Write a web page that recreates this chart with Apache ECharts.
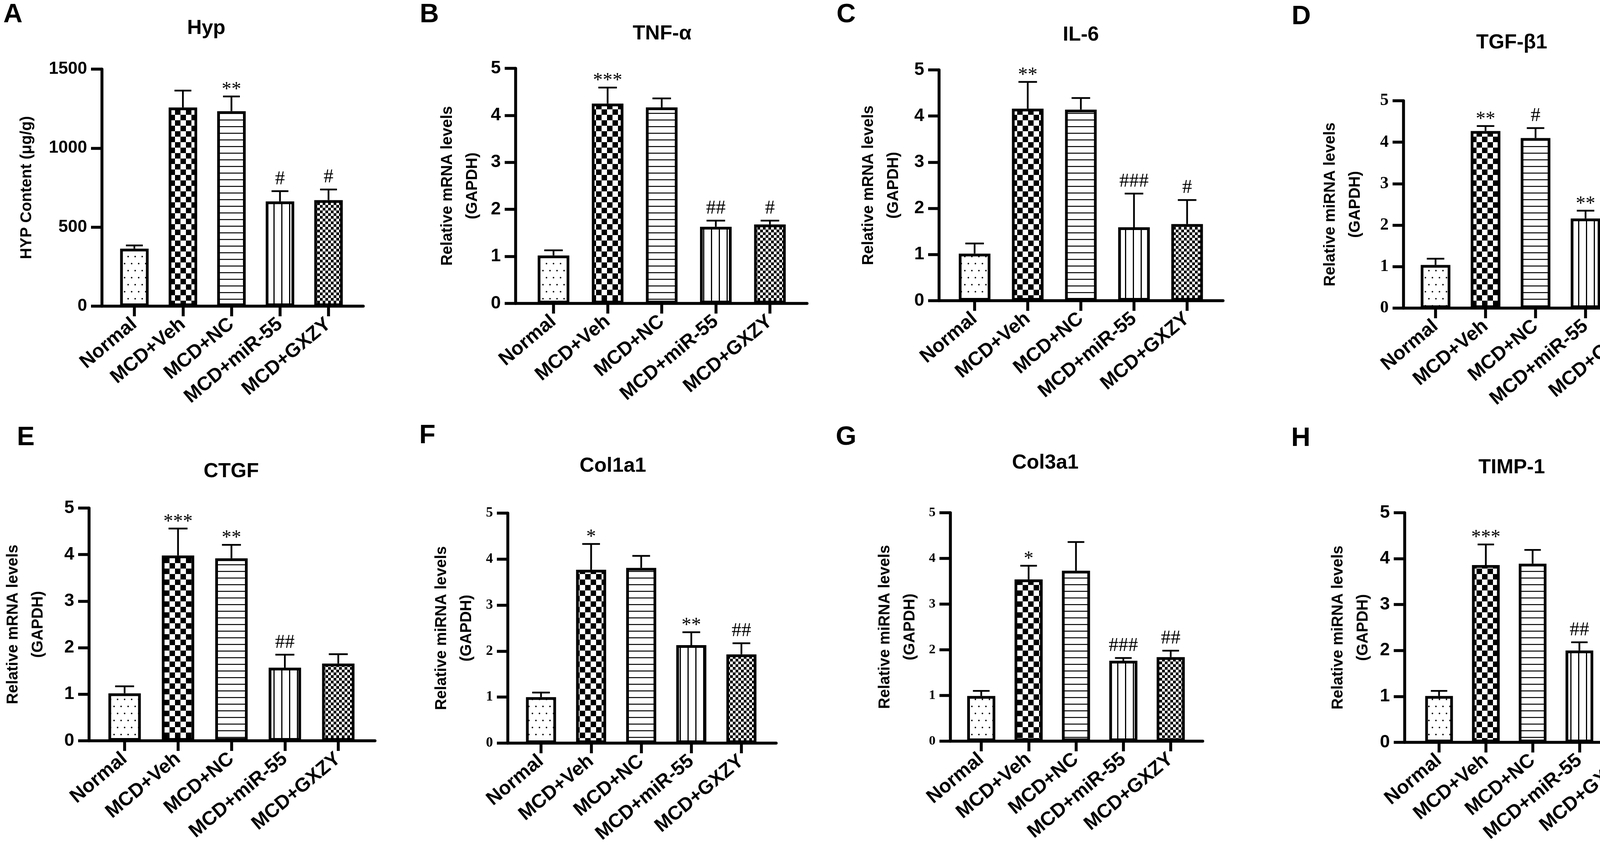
<!DOCTYPE html>
<html>
<head>
<meta charset="utf-8">
<script src="https://cdn.jsdelivr.net/npm/echarts@6/dist/echarts.min.js"></script>
<style>
html, body { margin: 0; padding: 0; background: #fff; }
#main { width: 4295px; height: 2169px; }
</style>
</head>
<body>
<div id="main"></div>
<script>
// x axis groups
var groups = ['Normal', 'MCD+Veh', 'MCD+NC', 'MCD+miR-55', 'MCD+GXZY'];

// y tick labels
var hypTicks = [0, 500, 1000, 1500];
var relTicks = [0, 1, 2, 3, 4, 5];

// A  Hyp
var hypMean = [364, 1257, 1234, 663, 671];
var hypSd = [20, 107, 93, 65, 67];
var hypSig = ['', '', '**', '#', '#'];
// B  TNF-α
var tnfMean = [1.02, 4.25, 4.17, 1.63, 1.68];
var tnfSd = [0.11, 0.34, 0.19, 0.13, 0.08];
var tnfSig = ['', '***', '', '##', '#'];
// C  IL-6
var il6Mean = [1.02, 4.16, 4.14, 1.59, 1.66];
var il6Sd = [0.22, 0.58, 0.25, 0.73, 0.52];
var il6Sig = ['', '**', '', '###', '#'];
// D  TGF-β1
var tgfMean = [1.04, 4.27, 4.10, 2.16, 2.28];
var tgfSd = [0.15, 0.12, 0.24, 0.19, 0.28];
var tgfSig = ['', '**', '#', '**', '#'];
// E  CTGF
var ctgfMean = [1.02, 3.98, 3.92, 1.57, 1.66];
var ctgfSd = [0.15, 0.58, 0.29, 0.28, 0.20];
var ctgfSig = ['', '***', '**', '##', ''];
// F  Col1a1
var col1Mean = [1.00, 3.77, 3.81, 2.13, 1.93];
var col1Sd = [0.10, 0.56, 0.26, 0.28, 0.24];
var col1Sig = ['', '*', '', '**', '##'];
// G  Col3a1
var col3Mean = [0.99, 3.54, 3.73, 1.76, 1.84];
var col3Sd = [0.11, 0.30, 0.63, 0.06, 0.14];
var col3Sig = ['', '*', '', '###', '##'];
// H  TIMP-1
var timpMean = [1.01, 3.86, 3.89, 2.00, 2.00];
var timpSd = [0.11, 0.45, 0.30, 0.18, 0.26];
var timpSig = ['', '***', '', '##', '##'];

var SANS = '"Liberation Sans", Arial, sans-serif';
var SERIF = '"Liberation Serif", "Times New Roman", serif';

//each panel: data + where it sits on the page (px)
var panels = [
  { letter: 'A', title: 'Hyp', mean: hypMean, sd: hypSd, sig: hypSig, ticks: hypTicks,
    yName: 'HYP Content (μg/g)', tickFont: SANS, tickSize: 44,
    ax: 261, xe: 930, t0: 344, dt: 124.25, yt: 177, yb: 784, bw: 80, ng: 160,
    lx: 33, ly: 38, tx: 528, ty: 73 },
  { letter: 'B', title: 'TNF-α', mean: tnfMean, sd: tnfSd, sig: tnfSig, ticks: relTicks,
    yName: 'Relative mRNA levels\n(GAPDH)', tickFont: SANS, tickSize: 46,
    ax: 1320, xe: 2066, t0: 1417, dt: 138.5, yt: 175, yb: 777, bw: 88, ng: 78,
    lx: 1099, ly: 38, tx: 1695, ty: 87 },
  { letter: 'C', title: 'IL-6', mean: il6Mean, sd: il6Sd, sig: il6Sig, ticks: relTicks,
    yName: 'Relative mRNA levels\n(GAPDH)', tickFont: SANS, tickSize: 46,
    ax: 2404, xe: 3131, t0: 2495, dt: 136, yt: 179, yb: 770, bw: 88, ng: 84,
    lx: 2166, ly: 38, tx: 2767, ty: 90 },
  { letter: 'D', title: 'TGF-β1', mean: tgfMean, sd: tgfSd, sig: tgfSig, ticks: relTicks,
    yName: 'Relative miRNA levels\n(GAPDH)', tickFont: SERIF, tickSize: 44,
    ax: 3593, xe: 4273, t0: 3675, dt: 128, yt: 258, yb: 789, bw: 83, ng: 91,
    lx: 3331, ly: 43, tx: 3870, ty: 110 },
  { letter: 'E', title: 'CTGF', mean: ctgfMean, sd: ctgfSd, sig: ctgfSig, ticks: relTicks,
    yName: 'Relative mRNA levels\n(GAPDH)', tickFont: SANS, tickSize: 46,
    ax: 228, xe: 960, t0: 319, dt: 136.75, yt: 1301, yb: 1897, bw: 90, ng: 98,
    lx: 66, ly: 1121, tx: 592, ty: 1208 },
  { letter: 'F', title: 'Col1a1', mean: col1Mean, sd: col1Sd, sig: col1Sig, ticks: relTicks,
    yName: 'Relative miRNA levels\n(GAPDH)', tickFont: SERIF, tickSize: 36,
    ax: 1300, xe: 1987, t0: 1385, dt: 128.25, yt: 1314, yb: 1903, bw: 84, ng: 73,
    lx: 1094, ly: 1116, tx: 1569, ty: 1194 },
  { letter: 'G', title: 'Col3a1', mean: col3Mean, sd: col3Sd, sig: col3Sig, ticks: relTicks,
    yName: 'Relative miRNA levels\n(GAPDH)', tickFont: SERIF, tickSize: 34,
    ax: 2433, xe: 3079, t0: 2512, dt: 121.25, yt: 1313, yb: 1898, bw: 79, ng: 71,
    lx: 2166, ly: 1120, tx: 2676, ty: 1186 },
  { letter: 'H', title: 'TIMP-1', mean: timpMean, sd: timpSd, sig: timpSig, ticks: relTicks,
    yName: 'Relative miRNA levels\n(GAPDH)', tickFont: SANS, tickSize: 46,
    ax: 3596, xe: 4247, t0: 3684, dt: 119.75, yt: 1313, yb: 1901, bw: 78, ng: 74,
    lx: 3330, ly: 1123, tx: 3870, ty: 1198 }
];

/*
 bar fills, one per group:
 dots / big checker / horizontal lines / vertical lines / fine checker
*/
function makePattern(kind) {
  var c = document.createElement('canvas');
  var g;
  if (kind === 'dots') {
    c.width = 18; c.height = 36;
    g = c.getContext('2d');
    g.fillStyle = '#fff'; g.fillRect(0, 0, 18, 36);
    g.fillStyle = '#000';
    g.beginPath(); g.arc(4, 9, 2, 0, Math.PI * 2); g.fill();
    g.beginPath(); g.arc(13, 27, 2, 0, Math.PI * 2); g.fill();
  } else if (kind === 'check') {
    c.width = 28; c.height = 28;
    g = c.getContext('2d');
    g.fillStyle = '#fff'; g.fillRect(0, 0, 28, 28);
    g.fillStyle = '#000';
    g.fillRect(0, 0, 14, 14); g.fillRect(14, 14, 14, 14);
  } else if (kind === 'hlines') {
    c.width = 4; c.height = 17;
    g = c.getContext('2d');
    g.fillStyle = '#fff'; g.fillRect(0, 0, 4, 17);
    g.fillStyle = '#000'; g.fillRect(0, 0, 4, 2.5);
  } else if (kind === 'vlines') {
    c.width = 20; c.height = 4;
    g = c.getContext('2d');
    g.fillStyle = '#fff'; g.fillRect(0, 0, 20, 4);
    g.fillStyle = '#000'; g.fillRect(0, 0, 3, 4);
  } else {
    c.width = 14; c.height = 14;
    g = c.getContext('2d');
    g.fillStyle = '#fff'; g.fillRect(0, 0, 14, 14);
    g.fillStyle = '#000';
    g.fillRect(0, 0, 7, 7); g.fillRect(7, 7, 7, 7);
  }
  return { image: c, repeat: 'repeat' };
}
var fills = ['dots', 'check', 'hlines', 'vlines', 'fine'].map(makePattern);

var grid = [], xAxis = [], yAxis = [], series = [], graphic = [];

panels.forEach(function (p, k) {
  var last = p.t0 + 4 * p.dt;
  grid.push({
    left: p.ax, top: p.yt,
    width: p.xe - p.ax, height: p.yb - p.yt,
    containLabel: false
  });
  xAxis.push({
    type: 'value', gridIndex: k,
    min: -(p.t0 - p.ax) / p.dt,
    max: 4 + (p.xe - last) / p.dt,
    axisLine: { show: true, onZero: false, lineStyle: { color: '#000', width: 7.5 } },
    axisTick: { show: true, customValues: [0, 1, 2, 3, 4], length: 26, lineStyle: { color: '#000', width: 7.5 } },
    axisLabel: {
      show: true, customValues: [0, 1, 2, 3, 4],
      formatter: function (v) { return groups[Math.round(v)]; },
      rotate: 40, margin: 40, color: '#000',
      fontFamily: SANS, fontWeight: 'bold', fontSize: 50
    },
    splitLine: { show: false }
  });
  yAxis.push({
    type: 'value', gridIndex: k,
    min: p.ticks[0], max: p.ticks[p.ticks.length - 1],
    interval: p.ticks[1] - p.ticks[0],
    axisLine: { show: true, onZero: false, lineStyle: { color: '#000', width: 7.5 } },
    axisTick: { show: true, length: 28, lineStyle: { color: '#000', width: 7.5 } },
    axisLabel: {
      margin: 38, color: '#000',
      formatter: function (v) { return String(v); },
      fontFamily: p.tickFont, fontWeight: 'bold', fontSize: p.tickSize
    },
    splitLine: { show: false },
    name: p.yName, nameLocation: 'middle', nameGap: p.ng,
    nameTextStyle: {
      color: '#000', fontFamily: SANS, fontWeight: 'bold',
      fontSize: 40, lineHeight: 64
    }
  });

  // bars
  series.push({
    type: 'bar', xAxisIndex: k, yAxisIndex: k,
    barWidth: p.bw - 7,
    itemStyle: { borderColor: '#000', borderWidth: 7 },
    data: p.mean.map(function (m, i) {
      return { value: [i, m], itemStyle: { color: fills[i] } };
    }),
    silent: true, z: 2
  });

  // error bars (up only) + significance marks
  var cap = p.bw * 0.27;
  series.push({
    type: 'custom', xAxisIndex: k, yAxisIndex: k,
    data: p.mean.map(function (m, i) { return [i, m, p.sd[i]]; }),
    clip: false, silent: true, z: 3,
    renderItem: function (params, api) {
      var i = api.value(0), m = api.value(1), s = api.value(2);
      var base = api.coord([i, m]);
      var top = api.coord([i, m + s]);
      var lab = p.sig[params.dataIndex];
      var kids = [
        { type: 'line', shape: { x1: base[0], y1: base[1], x2: top[0], y2: top[1] },
          style: { stroke: '#000', lineWidth: 4.5 } },
        { type: 'line', shape: { x1: top[0] - cap, y1: top[1], x2: top[0] + cap, y2: top[1] },
          style: { stroke: '#000', lineWidth: 4.5 } }
      ];
      if (lab) {
        kids.push({
          type: 'text', x: top[0], y: top[1] + (lab.charAt(0) === '*' ? 8 : -6),
          style: { text: lab, fill: '#000', font: '50px ' + SERIF, align: 'center', verticalAlign: 'bottom' }
        });
      }
      return { type: 'group', children: kids };
    }
  });

  // panel letter and title
  graphic.push({
    type: 'text', x: p.lx, y: p.ly,
    style: { text: p.letter, fill: '#000', font: 'bold 68px ' + SANS, align: 'center', verticalAlign: 'middle' }
  });
  graphic.push({
    type: 'text', x: p.tx, y: p.ty,
    style: { text: p.title, fill: '#000', font: 'bold 52px ' + SANS, align: 'center', verticalAlign: 'middle' }
  });
});

var chart = echarts.init(document.getElementById('main'));
chart.setOption({
  backgroundColor: '#fff',
  animation: false,
  grid: grid,
  xAxis: xAxis,
  yAxis: yAxis,
  series: series,
  graphic: graphic
});
</script>
</body>
</html>
